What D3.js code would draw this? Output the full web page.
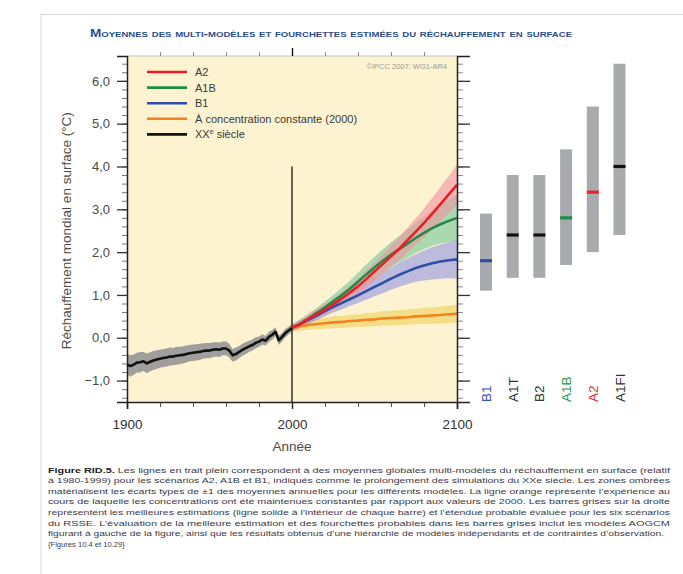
<!DOCTYPE html>
<html>
<head>
<meta charset="utf-8">
<script src="https://cdn.jsdelivr.net/npm/d3@7"></script>
<style>
  body { margin: 0; background: #fff; }
  svg { display: block; font-family: "Liberation Sans", Arial, sans-serif; }
</style>
</head>
<body>
<svg id="chart" width="683" height="574"></svg>
<script>
// ---- Data -------------------------------------------------------------
// 20th-century multi-model mean (°C, relative to 1980-1999), every 2 years
const histYears = d3.range(1900, 2001, 2);
const histMean = [-0.62,-0.66,-0.63,-0.58,-0.57,-0.55,-0.60,-0.56,-0.53,-0.51,
                  -0.49,-0.47,-0.46,-0.44,-0.44,-0.42,-0.41,-0.40,-0.38,-0.36,
                  -0.35,-0.34,-0.33,-0.31,-0.30,-0.30,-0.28,-0.27,-0.28,-0.25,
                  -0.25,-0.30,-0.41,-0.38,-0.33,-0.28,-0.24,-0.20,-0.17,-0.12,
                  -0.09,-0.04,-0.07,0.02,0.07,0.14,-0.06,0.02,0.11,0.17,0.23];
const histSd = [0.24,0.25,0.24,0.23,0.24,0.22,0.23,0.22,0.22,0.22,
                0.21,0.21,0.21,0.21,0.20,0.21,0.20,0.20,0.20,0.19,
                0.19,0.19,0.19,0.18,0.18,0.18,0.17,0.17,0.17,0.16,
                0.16,0.16,0.15,0.15,0.14,0.14,0.14,0.13,0.13,0.13,
                0.12,0.12,0.11,0.12,0.11,0.10,0.11,0.10,0.10,0.09,0.09];

// Scenario projections, every 5 years 2000-2100
const projYears = d3.range(2000, 2101, 5);
const a2Mean   = [0.23,0.32,0.44,0.55,0.66,0.78,0.91,1.05,1.20,1.37,1.55,1.72,1.90,2.08,2.28,2.48,2.68,2.90,3.12,3.35,3.57];
const a2Sd     = [0.08,0.10,0.11,0.12,0.13,0.14,0.15,0.17,0.18,0.20,0.21,0.23,0.25,0.27,0.29,0.31,0.34,0.37,0.40,0.43,0.47];
const a1bMean  = [0.23,0.33,0.45,0.58,0.71,0.85,0.99,1.14,1.31,1.48,1.64,1.80,1.94,2.07,2.20,2.33,2.45,2.56,2.65,2.73,2.80];
const a1bSd    = [0.08,0.10,0.11,0.12,0.14,0.15,0.17,0.19,0.21,0.23,0.25,0.27,0.29,0.31,0.33,0.35,0.38,0.41,0.45,0.50,0.55];
const b1Mean   = [0.23,0.32,0.42,0.52,0.62,0.72,0.81,0.90,0.99,1.09,1.19,1.28,1.38,1.47,1.55,1.63,1.69,1.74,1.78,1.81,1.83];
const b1Sd     = [0.08,0.09,0.10,0.11,0.12,0.13,0.15,0.16,0.18,0.20,0.22,0.24,0.26,0.28,0.30,0.32,0.35,0.38,0.40,0.42,0.45];
const constMean= [0.23,0.27,0.30,0.32,0.34,0.36,0.37,0.39,0.40,0.42,0.43,0.45,0.46,0.47,0.48,0.50,0.51,0.52,0.53,0.55,0.56];
const constSd  = [0.08,0.10,0.11,0.12,0.13,0.14,0.14,0.15,0.15,0.16,0.16,0.17,0.17,0.17,0.18,0.18,0.19,0.19,0.20,0.20,0.21];

// Best estimates and likely ranges at 2090-2099 for the six SRES scenarios
const barScenarios = ["B1", "A1T", "B2", "A1B", "A2", "A1FI"];
const barBest      = [1.8, 2.4, 2.4, 2.8, 3.4, 4.0];
const barLow       = [1.1, 1.4, 1.4, 1.7, 2.0, 2.4];
const barHigh      = [2.9, 3.8, 3.8, 4.4, 5.4, 6.4];
const barColors    = ["#2f4fa6", "#111111", "#111111", "#1c8c48", "#ee2028", "#111111"];
const barLabelColors = ["#3556b0", "#333333", "#333333", "#239a50", "#ee2a2a", "#333333"];

const yTickValues = [-1, 0, 1, 2, 3, 4, 5, 6];
const xTickLabels = [1900, 2000, 2100];

const legendItems = [
  { label: "A2", color: "#ee1d25" },
  { label: "A1B", color: "#1e8c45" },
  { label: "B1", color: "#2e4fa8" },
  { label: "À concentration constante (2000)", color: "#f5821f" },
  { label: "XXe siècle", color: "#111111" }
];

const captionLines = [
  "Les lignes en trait plein correspondent à des moyennes globales multi-modèles du réchauffement en surface (relatif",
  "à 1980-1999) pour les scénarios A2, A1B et B1, indiqués comme le prolongement des simulations du XXe siècle. Les zones ombrées",
  "matérialisent les écarts types de ±1 des moyennes annuelles pour les différents modèles. La ligne orange représente l’expérience au",
  "cours de laquelle les concentrations ont été maintenues constantes par rapport aux valeurs de 2000. Les barres grises sur la droite",
  "représentent les meilleures estimations (ligne solide à l’intérieur de chaque barre) et l’étendue probable évaluée pour les six scénarios",
  "du RSSE. L’évaluation de la meilleure estimation et des fourchettes probables dans les barres grises inclut les modèles AOGCM",
  "figurant à gauche de la figure, ainsi que les résultats obtenus d’une hiérarchie de modèles indépendants et de contraintes d’observation.",
  "{Figures 10.4 et 10.29}"
];

// ---- Layout -----------------------------------------------------------
const svg = d3.select("#chart");
const plot = { left: 127, right: 457, top: 56, bottom: 402 };

const x = d3.scaleLinear().domain([1900, 2100]).range([plot.left, plot.right]);
const y = d3.scaleLinear().domain([-1.5, 6.58]).range([plot.bottom, plot.top]);
const xb = d3.scalePoint().domain(barScenarios).range([486, 619.5]);
const barW = 12;

// outer frame of the figure panel
svg.append("path")
  .attr("d", "M41,574 V14.5 H683")
  .attr("fill", "none").attr("stroke", "#d8d8d8").attr("stroke-width", 1);

// title
svg.append("text")
  .attr("x", 90).attr("y", 36.5)
  .attr("textLength", 482).attr("lengthAdjust", "spacingAndGlyphs")
  .style("font-variant", "small-caps").style("font-weight", "bold")
  .style("font-size", "10px").attr("fill", "#2b4d8f")
  .text("Moyennes des multi-modèles et fourchettes estimées du réchauffement en surface");

// plot background
svg.append("rect")
  .attr("x", plot.left).attr("y", plot.top)
  .attr("width", plot.right - plot.left).attr("height", plot.bottom - plot.top)
  .attr("fill", "#fdf3d1");

// ---- Shaded ±1 sd bands ----------------------------------------------
function band(years, mean, sd, fill, opacity) {
  const area = d3.area()
    .x((d, i) => x(years[i]))
    .y0((d, i) => y(mean[i] - sd[i]))
    .y1((d, i) => y(mean[i] + sd[i]));
  svg.append("path").datum(mean)
    .attr("d", area).attr("fill", fill).attr("fill-opacity", opacity);
}
band(histYears, histMean, histSd, "#8f8f92", 0.85);
band(projYears, constMean, constSd, "#f0d66a", 0.7);
band(projYears, b1Mean, b1Sd, "#a6a8e2", 0.75);
band(projYears, a1bMean, a1bSd, "#7fcb9c", 0.65);
band(projYears, a2Mean, a2Sd, "#f291a0", 0.6);

// vertical marker at 2000
svg.append("line")
  .attr("x1", x(2000)).attr("x2", x(2000))
  .attr("y1", y(4.0)).attr("y2", plot.bottom)
  .attr("stroke", "#111").attr("stroke-width", 1.3);

// ---- Mean lines --------------------------------------------------------
function meanLine(years, mean, color) {
  const line = d3.line().x((d, i) => x(years[i])).y(d => y(d));
  svg.append("path").datum(mean)
    .attr("d", line).attr("fill", "none")
    .attr("stroke", color).attr("stroke-width", 2.6)
    .attr("stroke-linejoin", "round");
}
meanLine(projYears, constMean, "#f5821f");
meanLine(projYears, b1Mean, "#2e4fa8");
meanLine(projYears, a1bMean, "#1e8c45");
meanLine(projYears, a2Mean, "#ee1d25");
meanLine(histYears, histMean, "#111111");

// ---- Axes ---------------------------------------------------------------
svg.append("line").attr("x1", plot.left).attr("x2", plot.right)
  .attr("y1", plot.top).attr("y2", plot.top).attr("stroke", "#c4c4c4").attr("stroke-width", 1);

const yMinor = d3.range(-7, 33).map(k => k / 5);   // tick grid every 0.2 °C
const leftAxis = d3.axisLeft(y).tickValues(yTickValues).tickSize(10).tickPadding(7)
  .tickFormat(d => d3.format(".1f")(d).replace(".", ",").replace("-", "−"));
const gl = svg.append("g").attr("transform", `translate(${plot.left},0)`);
gl.append("g").call(d3.axisLeft(y).tickValues(yMinor).tickSize(5).tickFormat(""))
  .call(g => g.select(".domain").remove())
  .selectAll("line").attr("stroke", "#777");
gl.append("g").call(leftAxis)
  .call(g => g.select(".domain").attr("stroke", "#222").attr("stroke-width", 1.5))
  .call(g => g.selectAll("line").attr("stroke", "#333").attr("stroke-width", 1.3))
  .call(g => g.selectAll("text").attr("fill", "#4a4a4a").style("font-size", "13px")
    .style("font-family", "'Liberation Sans', Arial, sans-serif"));

const gr = svg.append("g").attr("transform", `translate(${plot.right},0)`);
gr.append("g").call(d3.axisRight(y).tickValues(yMinor).tickSize(6).tickFormat(""))
  .call(g => g.select(".domain").remove())
  .selectAll("line").attr("stroke", "#888");
gr.append("g").call(d3.axisRight(y).tickValues(yTickValues).tickSize(13).tickFormat(""))
  .call(g => g.select(".domain").attr("stroke", "#222").attr("stroke-width", 1.5))
  .selectAll("line").attr("stroke", "#333").attr("stroke-width", 1.3);

const xMinor = d3.range(1900, 2101, 20);
const gb = svg.append("g").attr("transform", `translate(0,${plot.bottom})`);
gb.append("g").call(d3.axisBottom(x).tickValues(xMinor).tickSize(5).tickFormat(""))
  .call(g => g.select(".domain").remove())
  .selectAll("line").attr("stroke", "#555");
gb.append("g").call(d3.axisBottom(x).tickValues(xTickLabels).tickSize(7).tickPadding(10).tickFormat(d3.format("d")))
  .call(g => g.select(".domain").attr("stroke", "#222").attr("stroke-width", 1.5))
  .call(g => g.selectAll("line").attr("stroke", "#222").attr("stroke-width", 1.4))
  .call(g => g.selectAll("text").attr("fill", "#333").style("font-size", "13.5px")
    .style("font-family", "'Liberation Sans', Arial, sans-serif"));

const gt = svg.append("g").attr("transform", `translate(0,${plot.top})`);
gt.append("g").call(d3.axisTop(x).tickValues(xMinor.filter(v => v > 1900 && v < 2100)).tickSize(4).tickFormat(""))
  .call(g => g.select(".domain").remove())
  .selectAll("line").attr("stroke", "#888");
gt.append("g").call(d3.axisTop(x).tickValues([2000]).tickSize(8).tickFormat(""))
  .call(g => g.select(".domain").remove())
  .selectAll("line").attr("stroke", "#111").attr("stroke-width", 1.4);

// axis titles
svg.append("text")
  .attr("transform", `translate(71,${y(2.5)}) rotate(-90)`)
  .attr("text-anchor", "middle").attr("fill", "#4f4842")
  .style("font-size", "13.5px")
  .text("Réchauffement mondial en surface (°C)");
svg.append("text")
  .attr("x", x(2000)).attr("y", 451)
  .attr("text-anchor", "middle").attr("fill", "#4f4842")
  .style("font-size", "13.5px")
  .text("Année");

// ---- Legend -------------------------------------------------------------
const lg = svg.append("g");
legendItems.forEach((it, i) => {
  const ly = 72 + i * 15.6;
  lg.append("line").attr("x1", 147).attr("x2", 187).attr("y1", ly).attr("y2", ly)
    .attr("stroke", it.color).attr("stroke-width", 2.6);
  const t = lg.append("text").attr("x", 195).attr("y", ly + 4)
    .attr("fill", "#3a3a3a").style("font-size", "11px");
  if (it.label.startsWith("XXe")) {
    t.append("tspan").text("XX");
    t.append("tspan").attr("dy", -4).style("font-size", "7px").text("e");
    t.append("tspan").attr("dy", 4).text(" siècle");
  } else {
    t.text(it.label);
  }
});
svg.append("text").attr("x", 447).attr("y", 69)
  .attr("text-anchor", "end").attr("fill", "#9a9a9a")
  .style("font-size", "7.5px").text("©IPCC 2007: WG1-AR4");

// ---- Likely-range bars (2090-2099) -------------------------------------
const bars = svg.append("g");
barScenarios.forEach((s, i) => {
  bars.append("rect")
    .attr("x", xb(s) - barW / 2).attr("width", barW)
    .attr("y", y(barHigh[i])).attr("height", y(barLow[i]) - y(barHigh[i]))
    .attr("fill", "#a9aaae");
  bars.append("rect")
    .attr("x", xb(s) - barW / 2).attr("width", barW)
    .attr("y", y(barBest[i]) - 1.6).attr("height", 3.2)
    .attr("fill", barColors[i]);
  bars.append("text")
    .attr("transform", `translate(${xb(s) + 5},${plot.bottom}) rotate(-90)`)
    .attr("text-anchor", "start").attr("fill", barLabelColors[i])
    .style("font-size", "13.5px")
    .text(s);
});

// ---- Caption ------------------------------------------------------------
const cap = svg.append("g").attr("fill", "#3a3a48").style("font-size", "7.6px");
captionLines.forEach((ln, i) => {
  const t = cap.append("text").attr("x", 48).attr("y", 472.5 + i * 10.6);
  if (i < captionLines.length - 1) {
    t.attr("textLength", i === 6 ? 616 : 622).attr("lengthAdjust", "spacingAndGlyphs");
  }
  if (i === 0) {
    t.append("tspan").style("font-weight", "bold").attr("fill", "#222").text("Figure RID.5. ");
  }
  t.append("tspan").text(ln);
});
</script>
</body>
</html>
